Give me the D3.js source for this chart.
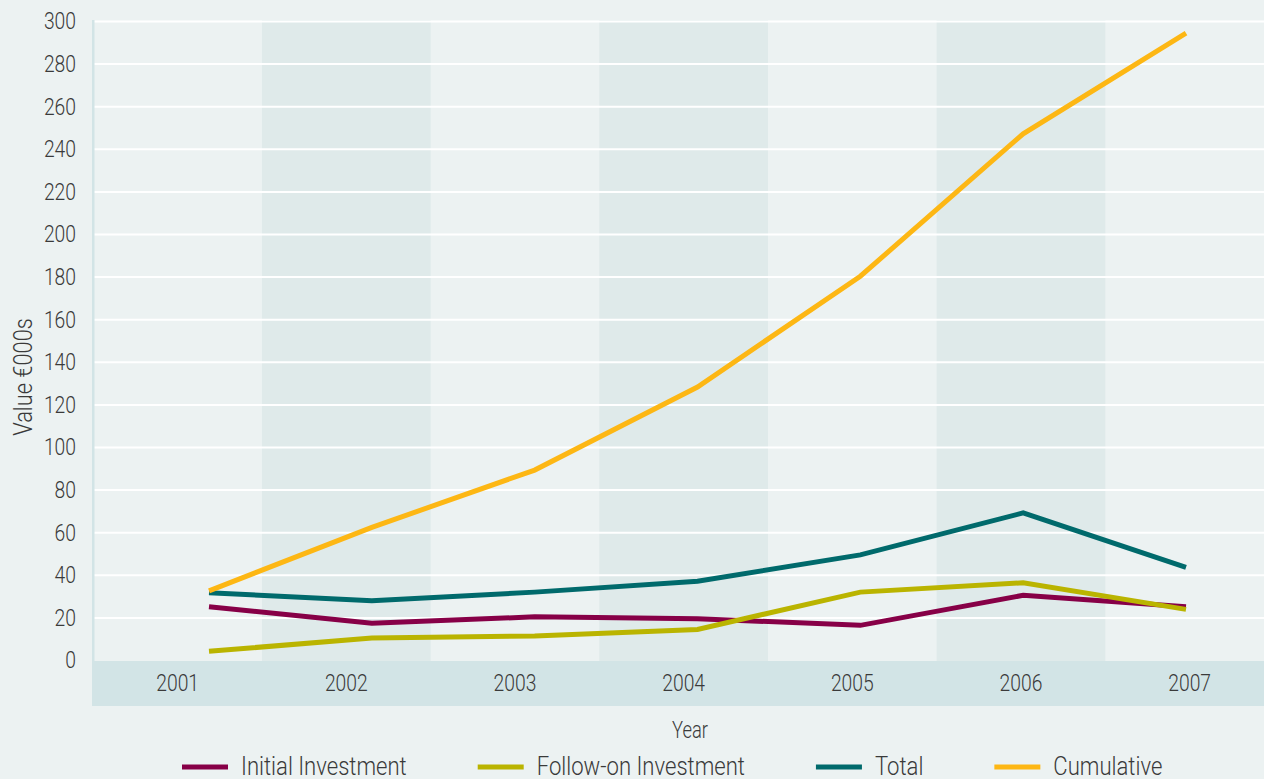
<!DOCTYPE html>
<html>
<head>
<meta charset="utf-8">
<script src="https://cdn.jsdelivr.net/npm/d3@7"></script>
<style>
  html, body { margin: 0; padding: 0; background: #ecf2f2; }
  svg { display: block; }
  text { font-family: "Roboto", "Open Sans", sans-serif; font-weight: 300; fill: #3a3a3a; }
</style>
</head>
<body>
<script>
'use strict';

/* Data */

var years = ['2001', '2002', '2003', '2004', '2005', '2006', '2007'];
var initialInvestment = [25.2, 17.5, 20.5, 19.6, 16.5, 30.6, 25.2];
var followOnInvestment = [4.3, 10.6, 11.5, 14.6, 32.1, 36.5, 24.0];
var total = [31.8, 28.0, 32.1, 37.2, 49.6, 69.3, 43.7];
var cumulative = [32.7, 62.5, 89.4, 128.4, 180.4, 247.3, 294.5];
var yTicks = [0, 20, 40, 60, 80, 100, 120, 140, 160, 180, 200, 220, 240, 260, 280, 300];

var series = [
  { name: 'Initial Investment', values: initialInvestment, color: '#870047' },
  { name: 'Follow-on Investment', values: followOnInvestment, color: '#bab400' },
  { name: 'Total', values: total, color: '#006a6c' },
  { name: 'Cumulative', values: cumulative, color: '#fdb714' }
];

/* Layout */

var width = 1264,
    height = 779,
    plot = { left: 92, top: 20, bottom: 661, right: 1274, band: 45 },
    squeeze = 0.84, // the original face is a narrow one
    legendSqueeze = 0.85;

var svg = d3.select('body').append('svg')
  .attr('width', width)
  .attr('height', height);

var x = d3.scaleBand().domain(years).range([plot.left + 1.3, plot.right]);
var xLine = d3.scalePoint().domain(years).range([209, 1186]);
var y = d3.scaleLinear().domain([0, 300]).range([660.5, 21.5]);

svg.append('rect')
  .attr('width', width)
  .attr('height', height)
  .attr('fill', '#ecf2f2');

// alternate year columns
svg.append('g').selectAll('rect')
  .data(years.filter(function(d, i) { return i % 2 === 1; }))
  .enter().append('rect')
  .attr('x', function(d) { return x(d); })
  .attr('y', plot.top)
  .attr('width', x.bandwidth())
  .attr('height', plot.bottom - plot.top)
  .attr('fill', '#dfeaea');

// grid
svg.append('g').selectAll('line')
  .data(yTicks.filter(function(d) { return d > 0; }))
  .enter().append('line')
  .attr('x1', plot.left + 2)
  .attr('x2', width)
  .attr('y1', function(d) { return y(d); })
  .attr('y2', function(d) { return y(d); })
  .attr('stroke', '#ffffff')
  .attr('stroke-width', 2);

// axis strip and band
svg.append('rect')
  .attr('x', plot.left)
  .attr('y', plot.top)
  .attr('width', 2.5)
  .attr('height', plot.bottom - plot.top)
  .attr('fill', '#d2e4e6');

svg.append('rect')
  .attr('x', plot.left)
  .attr('y', plot.bottom)
  .attr('width', width - plot.left)
  .attr('height', plot.band)
  .attr('fill', '#d2e4e6');

var yAxis = svg.append('g')
  .attr('transform', 'translate(' + plot.left + ',0)')
  .call(d3.axisLeft(y).tickValues(yTicks).tickSize(0).tickPadding(16 / squeeze));
var xAxis = svg.append('g')
  .attr('transform', 'translate(0,' + plot.bottom + ')')
  .call(d3.axisBottom(x).tickSize(0).tickPadding(14));

[yAxis, xAxis].forEach(function(axis) {
  axis.attr('font-family', null).attr('font-size', null);
  axis.select('.domain').remove();
  axis.selectAll('text')
    .attr('font-size', 23)
    .attr('fill', null)
    .attr('transform', 'scale(' + squeeze + ',1)');
});

// lines
var line = d3.line()
  .x(function(d, i) { return xLine(years[i]); })
  .y(function(d) { return y(d); });

svg.append('g').selectAll('path')
  .data(series)
  .enter().append('path')
  .attr('d', function(d) { return line(d.values); })
  .attr('fill', 'none')
  .attr('stroke', function(d) { return d.color; })
  .attr('stroke-width', 5);

// titles
svg.append('text')
  .attr('transform', 'translate(32,377) rotate(-90) scale(' + squeeze + ',1)')
  .attr('text-anchor', 'middle')
  .attr('font-size', 26)
  .text('Value €000s');

svg.append('text')
  .attr('transform', 'translate(690,738) scale(0.8,1)')
  .attr('text-anchor', 'middle')
  .attr('font-size', 23)
  .text('Year');

// legend
var legend = svg.append('g').attr('transform', 'translate(182,767)');
var offset = 0;
series.forEach(function(s) {
  var item = legend.append('g').attr('transform', 'translate(' + offset + ',0)');
  item.append('line')
    .attr('x1', 0)
    .attr('x2', 46)
    .attr('stroke', s.color)
    .attr('stroke-width', 5);
  var label = item.append('text')
    .attr('transform', 'translate(59,8) scale(' + legendSqueeze + ',1)')
    .attr('font-size', 26)
    .text(s.name);
  offset += 59 + label.node().getComputedTextLength() * legendSqueeze + 71;
});
</script>
</body>
</html>
